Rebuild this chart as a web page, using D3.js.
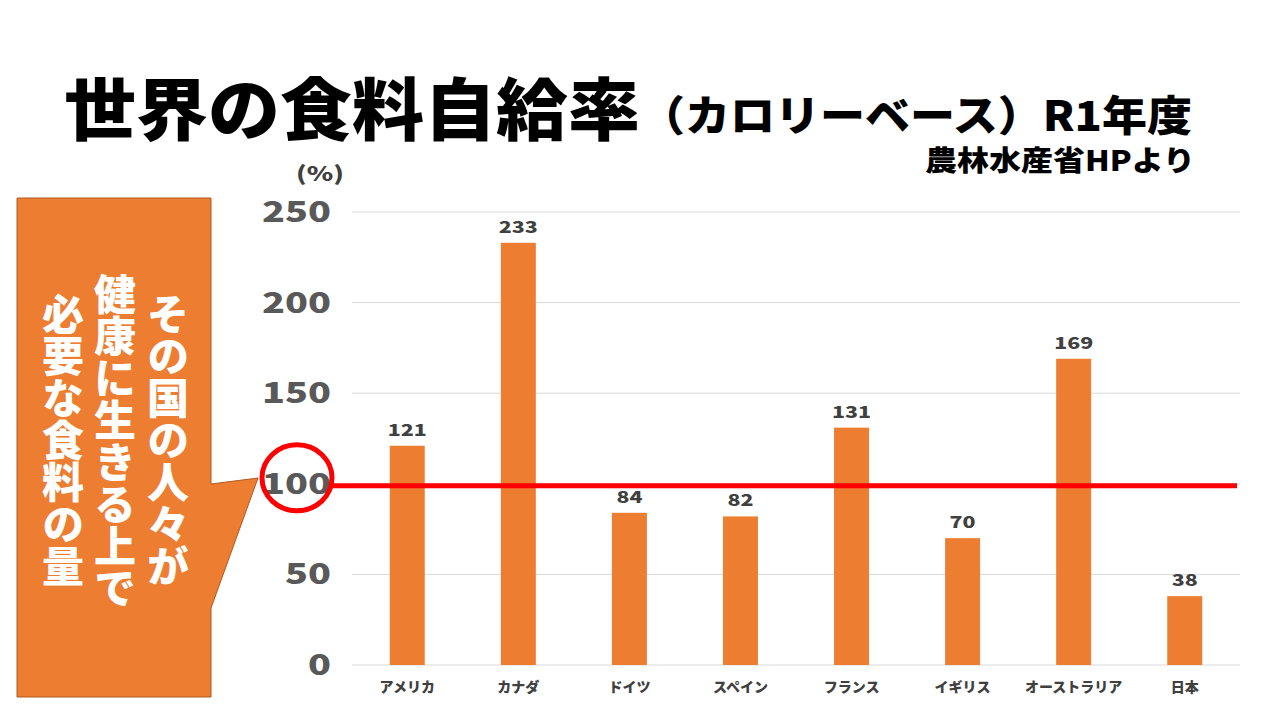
<!DOCTYPE html>
<html><head><meta charset="utf-8">
<script src="https://cdn.jsdelivr.net/npm/d3@7"></script>
<style>body{margin:0;background:#fff;}svg{display:block;}</style>
</head><body>
<svg id="c" width="1280" height="720"></svg>
<script>
const categories = ["アメリカ","カナダ","ドイツ","スペイン","フランス","イギリス","オーストラリア","日本"];
const values = [121,233,84,82,131,70,169,38];
const yTicks = [0,50,100,150,200,250];
const referenceValue = 100;
const calloutLines = ["その国の人々が","健康に生きる上で","必要な食料の量"];

const svg = d3.select("#c");
const JP = "'Noto Sans CJK JP', sans-serif";
const x = d3.scaleBand().domain(categories).range([352,1240]).paddingInner(0.685).paddingOuter(0.34);
const y = d3.scaleLinear().domain([0,250]).range([665,212]);

// gridlines
svg.append("g").selectAll("line").data(yTicks).join("line")
  .attr("x1",352).attr("x2",1240).attr("y1",d=>y(d)).attr("y2",d=>y(d))
  .attr("stroke","#d9d9d9").attr("stroke-width",1);

// y axis labels
svg.append("g").selectAll("text").data(yTicks).join("text")
  .attr("x",331).attr("y",d=>y(d)).attr("dy","0.36em").attr("text-anchor","end")
  .attr("font-family",JP).attr("font-weight",900).attr("font-size",28).attr("fill","#595959")
  .attr("textLength",d=>String(d).length*23).attr("lengthAdjust","spacingAndGlyphs")
  .text(d=>d);

svg.append("text").attr("x",296).attr("y",181)
  .attr("font-family",JP).attr("font-weight",900).attr("font-size",20).attr("fill","#404040")
  .attr("textLength",48).attr("lengthAdjust","spacingAndGlyphs").text("(%)");

// bars
svg.append("g").selectAll("rect").data(values).join("rect")
  .attr("x",(d,i)=>x(categories[i])).attr("width",x.bandwidth())
  .attr("y",d=>y(d)).attr("height",d=>y(0)-y(d)).attr("fill","#ED7D31");

// value labels
svg.append("g").selectAll("text").data(values).join("text")
  .attr("x",(d,i)=>x(categories[i])+x.bandwidth()/2).attr("y",d=>y(d)-10)
  .attr("text-anchor","middle").attr("font-family",JP).attr("font-weight",900)
  .attr("font-size",16).attr("fill","#404040")
  .attr("textLength",d=>String(d).length*13).attr("lengthAdjust","spacingAndGlyphs").text(d=>d);

// category labels
svg.append("g").selectAll("text").data(categories).join("text")
  .attr("x",d=>x(d)+x.bandwidth()/2).attr("y",692)
  .attr("text-anchor","middle").attr("font-family",JP).attr("font-weight",900)
  .attr("font-size",14).attr("fill","#404040").text(d=>d);

// reference line
svg.append("line").attr("x1",330).attr("x2",1237).attr("y1",y(referenceValue)+2).attr("y2",y(referenceValue)+2)
  .attr("stroke","#ff0000").attr("stroke-width",5);
svg.append("ellipse").attr("cx",297).attr("cy",y(referenceValue)-6).attr("rx",35).attr("ry",33)
  .attr("fill","none").attr("stroke","#ff0000").attr("stroke-width",5);

// callout
svg.append("path")
  .attr("d","M17,198 L211,198 L211,484 L258,478 L211,608 L211,697 L17,697 Z")
  .attr("fill","#ED7D31").attr("stroke","#ae5a21").attr("stroke-width",1);
const colX = [168,115,63];
const colY = [293,273,293];
calloutLines.forEach((t,i)=>{
  svg.append("text").attr("x",colX[i]).attr("y",colY[i])
    .attr("style","writing-mode: vertical-rl; text-orientation: upright;")
    .attr("font-family",JP).attr("font-weight",900).attr("font-size",42)
    .attr("fill","#fff").text(t);
});

// title
svg.append("text").attr("x",64).attr("y",135).attr("font-family",JP).attr("font-weight",900)
  .attr("font-size",68).attr("fill","#000").attr("textLength",576).attr("lengthAdjust","spacingAndGlyphs")
  .text("世界の食料自給率");
svg.append("text").attr("x",640).attr("y",131).attr("font-family",JP).attr("font-weight",900)
  .attr("font-size",42).attr("fill","#000").attr("textLength",552).attr("lengthAdjust","spacingAndGlyphs")
  .text("（カロリーベース）R1年度");
svg.append("text").attr("x",1195).attr("y",171).attr("text-anchor","end").attr("font-family",JP).attr("font-weight",900)
  .attr("font-size",28).attr("fill","#000").attr("textLength",270).attr("lengthAdjust","spacingAndGlyphs")
  .text("農林水産省HPより");
</script>
</body></html>
